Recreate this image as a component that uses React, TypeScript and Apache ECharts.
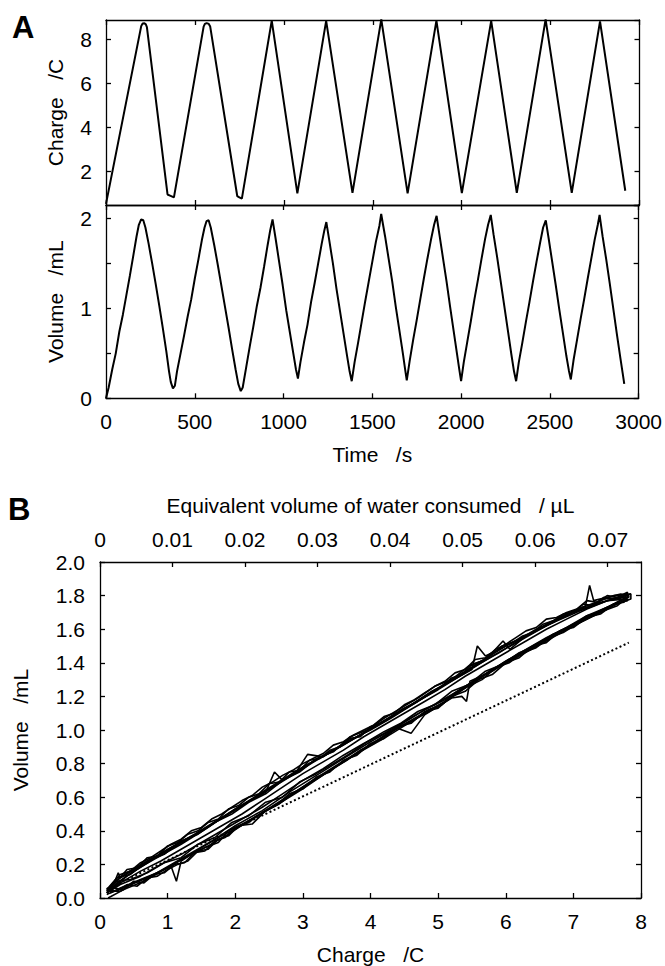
import React, { useEffect, useRef } from 'react';
import * as echarts from 'echarts';

// ---- Panel A: time traces (t in s) ----
const chargeTrace: number[][] = [
  [0, 0.5], [198, 8.62], [206, 8.74], [216, 8.75], [224, 8.7], [230, 8.58],
  [346, 0.93], [360, 0.88], [382, 0.8],
  [549, 8.6], [556, 8.72], [566, 8.76], [578, 8.72], [586, 8.6],
  [738, 0.86], [750, 0.8], [764, 0.74],
  [932, 8.87], [1076, 0.98], [1238, 8.86], [1386, 1.0], [1548, 8.93], [1696, 0.98],
  [1858, 8.87], [2001, 0.99], [2166, 8.86], [2310, 1.0], [2472, 8.93], [2619, 1.0],
  [2778, 8.84], [2920, 1.1],
];

const volumeTrace: number[][] = [
  [0, 0.0], [15, 0.12], [35, 0.32], [55, 0.5], [75, 0.74], [95, 0.93], [115, 1.15], [135, 1.37],
  [155, 1.6], [172, 1.8], [185, 1.93], [198, 1.99], [210, 1.98], [222, 1.9],
  [240, 1.72], [260, 1.5], [280, 1.27], [300, 1.03], [320, 0.78], [340, 0.52], [355, 0.3],
  [365, 0.18], [377, 0.11], [388, 0.14],
  [400, 0.3], [420, 0.5], [440, 0.7], [460, 0.91], [480, 1.1], [500, 1.33], [520, 1.54],
  [540, 1.76], [555, 1.9], [566, 1.97], [578, 1.98], [590, 1.9],
  [610, 1.7], [630, 1.48], [650, 1.25], [670, 1.02], [690, 0.79], [710, 0.55], [730, 0.32],
  [745, 0.16], [759, 0.08], [770, 0.12],
  [790, 0.35], [810, 0.58], [830, 0.8], [850, 1.03], [870, 1.23], [890, 1.46], [910, 1.7],
  [925, 1.87], [938, 1.99],
  [955, 1.78], [975, 1.52], [995, 1.26], [1015, 0.98], [1035, 0.74], [1055, 0.5], [1070, 0.32], [1081, 0.22],
  [1095, 0.4], [1115, 0.62], [1135, 0.82], [1155, 1.07], [1175, 1.28], [1195, 1.5], [1215, 1.72],
  [1230, 1.87], [1241, 1.96],
  [1258, 1.75], [1278, 1.5], [1298, 1.22], [1318, 0.97], [1338, 0.72], [1358, 0.47], [1372, 0.3], [1384, 0.19],
  [1400, 0.4], [1420, 0.62], [1440, 0.85], [1460, 1.08], [1480, 1.3], [1500, 1.52], [1520, 1.74],
  [1540, 1.92], [1550, 2.05], [1556, 1.98],
  [1572, 1.8], [1592, 1.55], [1612, 1.3], [1632, 1.02], [1652, 0.76], [1672, 0.5], [1685, 0.32], [1694, 0.2],
  [1710, 0.41], [1730, 0.65], [1750, 0.87], [1770, 1.1], [1790, 1.33], [1810, 1.55], [1830, 1.76],
  [1848, 1.93], [1862, 2.03],
  [1878, 1.82], [1898, 1.56], [1918, 1.3], [1938, 1.02], [1958, 0.75], [1978, 0.48], [1990, 0.32], [2000, 0.19],
  [2015, 0.4], [2035, 0.63], [2055, 0.86], [2075, 1.1], [2095, 1.32], [2115, 1.55], [2135, 1.77],
  [2152, 1.93], [2167, 2.04],
  [2183, 1.82], [2203, 1.57], [2223, 1.3], [2243, 1.03], [2263, 0.76], [2283, 0.49], [2298, 0.3], [2310, 0.19],
  [2325, 0.4], [2345, 0.62], [2365, 0.85], [2385, 1.07], [2405, 1.3], [2425, 1.52], [2445, 1.73],
  [2462, 1.9], [2477, 1.98],
  [2493, 1.78], [2513, 1.52], [2533, 1.26], [2553, 0.99], [2573, 0.73], [2593, 0.47], [2607, 0.31], [2618, 0.21],
  [2633, 0.42], [2653, 0.65], [2673, 0.88], [2693, 1.1], [2713, 1.33], [2733, 1.55], [2753, 1.77],
  [2770, 1.93], [2780, 2.04],
  [2797, 1.8], [2817, 1.55], [2837, 1.28], [2857, 1.0], [2877, 0.72], [2897, 0.45], [2910, 0.28], [2919, 0.16],
];

// ---- Panel B: volume vs charge loops ----
const loopA: number[][] = [
  [0.1, 0.02], [0.3, 0.06], [0.6, 0.11], [0.9, 0.16], [1.05, 0.19], [1.13, 0.1], [1.2, 0.22], [1.5, 0.3], [1.8, 0.37],
  [2.0, 0.41], [2.4, 0.51], [2.8, 0.61], [3.2, 0.71], [3.6, 0.81], [4.0, 0.91], [4.4, 1.01], [4.6, 0.98],
  [4.8, 1.09], [5.2, 1.19], [5.35, 1.2], [5.42, 1.17], [5.47, 1.29], [5.8, 1.35], [6.2, 1.45], [6.6, 1.54], [7.0, 1.63],
  [7.4, 1.71], [7.7, 1.77], [7.82, 1.79],
  [7.82, 1.8], [7.7, 1.81], [7.5, 1.79], [7.3, 1.77], [7.24, 1.86], [7.18, 1.74], [6.9, 1.69], [6.6, 1.63],
  [6.3, 1.56], [6.06, 1.48], [5.96, 1.53], [5.8, 1.46], [5.7, 1.44], [5.58, 1.5], [5.5, 1.36], [5.1, 1.27], [4.7, 1.17],
  [4.3, 1.07], [4.0, 1.0], [3.6, 0.92], [3.3, 0.84], [3.07, 0.855], [2.9, 0.75], [2.7, 0.7], [2.58, 0.75], [2.45, 0.63],
  [2.1, 0.55], [1.7, 0.45], [1.3, 0.35], [0.9, 0.26], [0.6, 0.19], [0.3, 0.12], [0.27, 0.15], [0.2, 0.08], [0.1, 0.03],
];
const loopB: number[][] = [
  [0.15, 0.03], [0.4, 0.07], [0.7, 0.12], [1.0, 0.18], [1.3, 0.25], [1.6, 0.31], [1.9, 0.38], [2.2, 0.46],
  [2.6, 0.55], [3.0, 0.65], [3.4, 0.76], [3.8, 0.86], [4.2, 0.95], [4.6, 1.05], [5.0, 1.14], [5.4, 1.25],
  [5.8, 1.36], [6.2, 1.44], [6.6, 1.53], [7.0, 1.62], [7.4, 1.7], [7.75, 1.77],
  [7.75, 1.79], [7.4, 1.76], [7.0, 1.7], [6.6, 1.62], [6.2, 1.53], [5.8, 1.44], [5.4, 1.34], [5.0, 1.24],
  [4.6, 1.15], [4.2, 1.05], [3.8, 0.96], [3.4, 0.87], [3.0, 0.78], [2.6, 0.68], [2.2, 0.58], [1.8, 0.48],
  [1.4, 0.38], [1.0, 0.29], [0.7, 0.21], [0.4, 0.13], [0.15, 0.05],
];
const loopC: number[][] = [
  [0.12, 0.0], [0.35, 0.05], [0.65, 0.1], [0.95, 0.17], [1.25, 0.24], [1.55, 0.3], [1.75, 0.33], [1.9, 0.4],
  [2.3, 0.48], [2.7, 0.58], [3.1, 0.69], [3.5, 0.79], [3.9, 0.89], [4.3, 0.99], [4.7, 1.08], [5.1, 1.17],
  [5.5, 1.28], [5.9, 1.38], [6.3, 1.47], [6.7, 1.56], [7.1, 1.65], [7.5, 1.73], [7.85, 1.78],
  [7.85, 1.81], [7.6, 1.8], [7.2, 1.74], [6.8, 1.67], [6.4, 1.58], [6.0, 1.5], [5.6, 1.4], [5.2, 1.3],
  [4.8, 1.2], [4.4, 1.1], [4.0, 1.01], [3.6, 0.91], [3.2, 0.82], [2.8, 0.72], [2.4, 0.62], [2.0, 0.53],
  [1.6, 0.42], [1.2, 0.32], [0.8, 0.23], [0.5, 0.16], [0.25, 0.09], [0.12, 0.04],
];
const loopD: number[][] = [
  [0.1, 0.04], [0.3, 0.04], [0.5, 0.09], [0.8, 0.14], [1.1, 0.21], [1.4, 0.28], [1.7, 0.35], [2.0, 0.43],
  [2.4, 0.52], [2.8, 0.63], [3.2, 0.73], [3.6, 0.83], [4.0, 0.93], [4.4, 1.02], [4.8, 1.12], [5.2, 1.21],
  [5.6, 1.31], [6.0, 1.41], [6.4, 1.5], [6.8, 1.59], [7.2, 1.67], [7.6, 1.75], [7.8, 1.77],
  [7.8, 1.78], [7.5, 1.77], [7.1, 1.71], [6.7, 1.64], [6.3, 1.56], [5.9, 1.46], [5.5, 1.37], [5.1, 1.27],
  [4.7, 1.17], [4.3, 1.08], [3.9, 0.98], [3.5, 0.89], [3.1, 0.8], [2.7, 0.7], [2.3, 0.6], [1.9, 0.5],
  [1.5, 0.4], [1.1, 0.31], [0.7, 0.22], [0.4, 0.15], [0.2, 0.09], [0.1, 0.04],
];
const loopE: number[][] = [
  [0.1, 0.03], [0.2, 0.06], [0.35, 0.05], [0.5, 0.1], [0.65, 0.09], [0.8, 0.14], [0.95, 0.15], [1.1, 0.2],
  [1.25, 0.21], [1.4, 0.27], [1.55, 0.28], [1.7, 0.34], [1.85, 0.36], [2.0, 0.42], [2.2, 0.45], [2.4, 0.51],
  [2.6, 0.55], [2.8, 0.62], [3.0, 0.65], [3.2, 0.72], [3.4, 0.75], [3.6, 0.82], [3.8, 0.85], [4.0, 0.92],
  [4.2, 0.95], [4.4, 1.02], [4.6, 1.04], [4.8, 1.11], [5.0, 1.13], [5.2, 1.2], [5.4, 1.23], [5.6, 1.3],
  [5.8, 1.33], [6.0, 1.4], [6.2, 1.43], [6.4, 1.5], [6.6, 1.52], [6.8, 1.59], [7.0, 1.61], [7.2, 1.67],
  [7.4, 1.69], [7.6, 1.75], [7.75, 1.76],
  [7.75, 1.8], [7.6, 1.78], [7.45, 1.79], [7.3, 1.74], [7.15, 1.75], [7.0, 1.7], [6.85, 1.69], [6.7, 1.65],
  [6.55, 1.63], [6.4, 1.58], [6.25, 1.56], [6.1, 1.52], [5.95, 1.49], [5.8, 1.46], [5.65, 1.41], [5.5, 1.39],
  [5.35, 1.33], [5.2, 1.31], [5.05, 1.26], [4.9, 1.23], [4.75, 1.19], [4.6, 1.15], [4.45, 1.12], [4.3, 1.08],
  [4.15, 1.04], [4.0, 1.02], [3.85, 0.96], [3.7, 0.95], [3.55, 0.9], [3.4, 0.88], [3.25, 0.83], [3.1, 0.82],
  [2.95, 0.76], [2.8, 0.75], [2.65, 0.69], [2.5, 0.68], [2.35, 0.62], [2.2, 0.6], [2.05, 0.55], [1.9, 0.53],
  [1.75, 0.47], [1.6, 0.45], [1.45, 0.4], [1.3, 0.38], [1.15, 0.33], [1.0, 0.31], [0.85, 0.25], [0.7, 0.24],
  [0.55, 0.18], [0.4, 0.17], [0.25, 0.1], [0.1, 0.05],
];
const loopF: number[][] = [
  [0.12, 0.05], [0.25, 0.04], [0.4, 0.08], [0.55, 0.07], [0.7, 0.12], [0.85, 0.13], [1.0, 0.17], [1.15, 0.2],
  [1.3, 0.22], [1.45, 0.28], [1.6, 0.29], [1.75, 0.35], [1.9, 0.37], [2.05, 0.43], [2.25, 0.44], [2.45, 0.52],
  [2.65, 0.56], [2.85, 0.62], [3.05, 0.67], [3.25, 0.72], [3.45, 0.77], [3.65, 0.82], [3.85, 0.88], [4.05, 0.92],
  [4.25, 0.98], [4.45, 1.02], [4.65, 1.06], [4.85, 1.12], [5.05, 1.15], [5.25, 1.22], [5.45, 1.26], [5.65, 1.3],
  [5.85, 1.37], [6.05, 1.4], [6.25, 1.46], [6.45, 1.49], [6.65, 1.55], [6.85, 1.58], [7.05, 1.63], [7.25, 1.67],
  [7.45, 1.71], [7.65, 1.74], [7.8, 1.79],
  [7.8, 1.82], [7.65, 1.79], [7.5, 1.8], [7.35, 1.76], [7.2, 1.77], [7.05, 1.72], [6.9, 1.7], [6.75, 1.67],
  [6.6, 1.66], [6.45, 1.61], [6.3, 1.59], [6.15, 1.55], [6.0, 1.51], [5.85, 1.48], [5.7, 1.43], [5.55, 1.42],
  [5.4, 1.36], [5.25, 1.34], [5.1, 1.29], [4.95, 1.26], [4.8, 1.22], [4.65, 1.18], [4.5, 1.15], [4.35, 1.1],
  [4.2, 1.08], [4.05, 1.03], [3.9, 1.0], [3.75, 0.97], [3.6, 0.93], [3.45, 0.91], [3.3, 0.86], [3.15, 0.83],
  [3.0, 0.8], [2.85, 0.76], [2.7, 0.73], [2.55, 0.69], [2.4, 0.66], [2.25, 0.61], [2.1, 0.58], [1.95, 0.54],
  [1.8, 0.5], [1.65, 0.47], [1.5, 0.42], [1.35, 0.4], [1.2, 0.35], [1.05, 0.32], [0.9, 0.28], [0.75, 0.24],
  [0.6, 0.21], [0.45, 0.16], [0.3, 0.14], [0.15, 0.07],
];
const loopG: number[][] = [
  [0.1, 0.03], [0.3, 0.08], [0.6, 0.13], [0.9, 0.2], [1.2, 0.26], [1.5, 0.33], [1.8, 0.4], [2.1, 0.47],
  [2.4, 0.54], [2.7, 0.62], [3.0, 0.7], [3.3, 0.77], [3.6, 0.85], [3.9, 0.92], [4.2, 0.98], [4.5, 1.05],
  [4.8, 1.12], [5.1, 1.18], [5.4, 1.26], [5.7, 1.33], [6.0, 1.41], [6.3, 1.48], [6.6, 1.55], [6.9, 1.61],
  [7.2, 1.68], [7.5, 1.73], [7.78, 1.79],
  [7.78, 1.8], [7.5, 1.77], [7.2, 1.72], [6.9, 1.66], [6.6, 1.6], [6.3, 1.53], [6.0, 1.46], [5.7, 1.39],
  [5.4, 1.32], [5.1, 1.24], [4.8, 1.17], [4.5, 1.1], [4.2, 1.03], [3.9, 0.96], [3.6, 0.88], [3.3, 0.81],
  [3.0, 0.74], [2.7, 0.66], [2.4, 0.58], [2.1, 0.5], [1.8, 0.43], [1.5, 0.36], [1.2, 0.29], [0.9, 0.22],
  [0.6, 0.16], [0.3, 0.09], [0.1, 0.04],
];
const loopH: number[][] = [
  [0.1, 0.05], [0.25, 0.1], [0.45, 0.11], [0.7, 0.15], [0.95, 0.21], [1.2, 0.24], [1.45, 0.32], [1.7, 0.36],
  [1.95, 0.45], [2.2, 0.49], [2.45, 0.57], [2.7, 0.6], [2.95, 0.69], [3.2, 0.74], [3.45, 0.8], [3.7, 0.86],
  [3.95, 0.93], [4.2, 0.99], [4.45, 1.04], [4.7, 1.11], [4.95, 1.15], [5.2, 1.23], [5.45, 1.27], [5.7, 1.35],
  [5.95, 1.39], [6.2, 1.46], [6.45, 1.5], [6.7, 1.57], [6.95, 1.61], [7.2, 1.68], [7.45, 1.71], [7.7, 1.77],
  [7.7, 1.79], [7.45, 1.78], [7.2, 1.73], [6.95, 1.7], [6.7, 1.64], [6.45, 1.6], [6.2, 1.54], [5.95, 1.5],
  [5.7, 1.42], [5.45, 1.38], [5.2, 1.3], [4.95, 1.26], [4.7, 1.19], [4.45, 1.13], [4.2, 1.07], [3.95, 1.0],
  [3.7, 0.96], [3.45, 0.87], [3.2, 0.83], [2.95, 0.75], [2.7, 0.7], [2.45, 0.62], [2.2, 0.57], [1.95, 0.5],
  [1.7, 0.45], [1.45, 0.38], [1.2, 0.34], [0.95, 0.26], [0.7, 0.22], [0.45, 0.14], [0.25, 0.12], [0.1, 0.05],
];
const theoryLine: number[][] = [[0.1, 0.054], [7.82, 1.52]];

const FONT = '"Liberation Sans", Arial, Helvetica, sans-serif';
const FS = 21;
const axLine = { color: '#000', width: 1.3 };
const nameStyle = { fontSize: FS, fontFamily: FONT, color: '#000' };
const NB = '\u00a0\u00a0\u00a0';

function axis(extra: any) {
  return {
    type: 'value',
    axisLine: { show: true, onZero: false, lineStyle: axLine },
    axisTick: { show: true, inside: true, length: 5, lineStyle: axLine },
    splitLine: { show: false },
    axisLabel: { show: false },
    ...extra,
  };
}
function label(extra: any) {
  return { show: true, color: '#000', fontSize: FS, fontFamily: FONT, ...extra };
}

export default function App() {
  const ref = useRef<HTMLDivElement>(null);
  useEffect(() => {
    const chart = echarts.init(ref.current!, null, { renderer: 'svg' });
    const gA1 = { left: 106, top: 20, width: 533.5, height: 185 };
    const gA2 = { left: 106, top: 205, width: 533.5, height: 193.3 };
    const gB = { left: 100, top: 562, width: 541, height: 337.5 };
    const loopSeries = [loopA, loopB, loopC, loopD, loopE, loopF, loopG, loopH].map((d) => ({
      type: 'line', xAxisIndex: 4, yAxisIndex: 4, data: d, showSymbol: false,
      lineStyle: { color: '#000', width: 1.6 },
    }));
    const option: any = {
      animation: false,
      backgroundColor: '#fff',
      grid: [gA1, gA2, gB],
      xAxis: [
        axis({ gridIndex: 0, position: 'bottom', min: 0, max: 3000, interval: 500 }),
        axis({ gridIndex: 0, position: 'top', min: 0, max: 3000, interval: 500 }),
        axis({
          gridIndex: 1, position: 'bottom', min: 0, max: 3000, interval: 500,
          axisLabel: label({ margin: 13, formatter: (v: number) => String(v) }),
          name: 'Time' + NB + '/s', nameLocation: 'middle', nameGap: 46, nameTextStyle: nameStyle,
        }),
        axis({ gridIndex: 1, position: 'top', min: 0, max: 3000, interval: 500 }),
        axis({
          gridIndex: 2, position: 'bottom', min: 0, max: 8, interval: 1,
          axisLabel: label({ margin: 13, formatter: (v: number) => String(v) }),
          name: 'Charge' + NB + '/C', nameLocation: 'middle', nameGap: 46, nameTextStyle: nameStyle,
        }),
        axis({
          gridIndex: 2, position: 'top', min: 0, max: 0.0746, interval: 0.01,
          axisLabel: label({
            margin: 12, showMaxLabel: false,
            formatter: (v: number) => (v === 0 ? '0' : v.toFixed(2)),
          }),
          name: 'Equivalent volume of water consumed' + NB + '/ µL', nameLocation: 'middle', nameGap: 46,
          nameTextStyle: nameStyle,
        }),
      ],
      yAxis: [
        axis({
          gridIndex: 0, position: 'left', min: 0.45, max: 8.9, splitNumber: 5,
          axisLabel: label({
            margin: 14, showMinLabel: false, showMaxLabel: false,
            formatter: (v: number) => (Math.abs(v - Math.round(v)) < 1e-6 && Math.round(v) % 2 === 0 && v > 1 ? String(Math.round(v)) : ''),
          }),
          name: 'Charge' + NB + '/C', nameLocation: 'middle', nameGap: 40, nameTextStyle: nameStyle,
        }),
        axis({ gridIndex: 0, position: 'right', min: 0.45, max: 8.9, splitNumber: 5 }),
        axis({
          gridIndex: 1, position: 'left', min: 0, max: 2.15, interval: 0.5,
          axisLabel: label({
            margin: 14, showMaxLabel: false,
            formatter: (v: number) => (Math.abs(v - Math.round(v)) < 1e-6 ? String(Math.round(v)) : ''),
          }),
          name: 'Volume' + NB + '/mL', nameLocation: 'middle', nameGap: 40, nameTextStyle: nameStyle,
        }),
        axis({ gridIndex: 1, position: 'right', min: 0, max: 2.15, interval: 0.5 }),
        axis({
          gridIndex: 2, position: 'left', min: 0, max: 2, interval: 0.2,
          axisLabel: label({ margin: 15, formatter: (v: number) => v.toFixed(1) }),
          name: 'Volume' + NB + '/mL', nameLocation: 'middle', nameGap: 69, nameTextStyle: nameStyle,
        }),
        axis({ gridIndex: 2, position: 'right', min: 0, max: 2, interval: 0.2 }),
      ],
      series: [
        {
          type: 'line', xAxisIndex: 0, yAxisIndex: 0, data: chargeTrace, showSymbol: false,
          lineStyle: { color: '#000', width: 2 },
        },
        {
          type: 'line', xAxisIndex: 2, yAxisIndex: 2, data: volumeTrace, showSymbol: false,
          lineStyle: { color: '#000', width: 2 },
        },
        ...loopSeries,
        {
          type: 'line', xAxisIndex: 4, yAxisIndex: 4, data: theoryLine, showSymbol: false,
          lineStyle: { color: '#000', width: 2, type: [2, 2.5] },
        },
      ],
      graphic: [
        { type: 'text', left: 12, top: 12, style: { text: 'A', fontSize: 31, fontWeight: 'bold', fontFamily: FONT, fill: '#000' } },
        { type: 'text', left: 8, top: 494, style: { text: 'B', fontSize: 31, fontWeight: 'bold', fontFamily: FONT, fill: '#000' } },
      ],
    };
    chart.setOption(option);
    return () => chart.dispose();
  }, []);
  return (
    <div
      ref={ref}
      style={{ position: 'fixed', left: 0, top: 0, width: 665, height: 966, background: '#fff' }}
    />
  );
}
